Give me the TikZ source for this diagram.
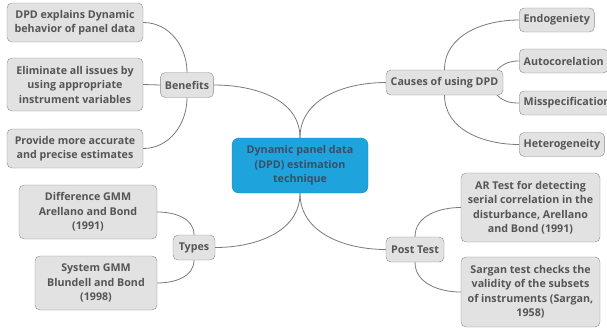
\documentclass[tikz,border=0pt]{standalone}
\usepackage{fontspec}
\setmainfont{Open Sans}
\usetikzlibrary{positioning}
\definecolor{boxfill}{HTML}{E2E2E2}
\definecolor{boxline}{HTML}{8A8A8A}
\definecolor{txtgray}{HTML}{555555}
\definecolor{linkgray}{HTML}{7A7A7A}
\definecolor{hubfill}{HTML}{1FA3DD}
\definecolor{hubline}{HTML}{1A86B8}
\definecolor{hubtxt}{HTML}{3A4E66}

\begin{document}
\begin{tikzpicture}[x=1pt,y=-1pt,
    link/.style={draw=linkgray,line width=0.8pt},
    topic/.style={draw=boxline,fill=boxfill,rounded corners=5pt,align=center,text=txtgray,
      font=\fontsize{10.7}{14.5}\selectfont\bfseries,inner xsep=4.5pt,inner ysep=3pt,minimum height=25pt},
    hub/.style={topic,draw=hubline,fill=hubfill,text=hubtxt,rounded corners=7pt,minimum width=136pt,minimum height=55pt}]

  \useasboundingbox (0,0) rectangle (607,327);

  \node[hub]                                    (dpd) at (300,165.5) {Dynamic panel data\\(DPD) estimation\\technique};

  \node[topic,minimum width=52pt]               (ben) at (187,85)    {Benefits};
  \node[topic,minimum width=42pt]               (typ) at (194,247.5) {Types};
  \node[topic,minimum width=117pt]              (cau) at (444.5,82.5) {Causes of using DPD};
  \node[topic,minimum width=58pt]               (pst) at (415,249.5) {Post Test};

  \node[topic,minimum width=136pt,minimum height=39pt] (b1) at (75,22.5)  {DPD explains Dynamic\\behavior of panel data};
  \node[topic,minimum width=136pt,minimum height=53pt] (b2) at (75,84.5)  {Eliminate all issues by\\using appropriate\\instrument variables};
  \node[topic,minimum width=136pt,minimum height=39pt] (b3) at (75,148.5) {Provide more accurate\\and precise estimates};

  \node[topic,minimum width=138pt,minimum height=54pt] (t1) at (88,212)   {Difference GMM\\Arellano and Bond\\(1991)};
  \node[topic,minimum width=122pt,minimum height=54pt] (t2) at (96,283)   {System GMM\\Blundell and Bond\\(1998)};

  \node[topic,anchor=west,minimum height=24pt]  (c1) at (519,20)    {Endogeniety};
  \node[topic,anchor=west,minimum height=24pt]  (c2) at (519,61)    {Autocorelation};
  \node[topic,anchor=west,minimum height=24pt]  (c3) at (519,103)   {Misspecification};
  \node[topic,anchor=west,minimum height=24pt]  (c4) at (519,144.5) {Heterogeneity};

  \node[topic,minimum width=139pt,minimum height=69pt] (p1) at (530.5,207.5) {AR Test for detecting\\serial correlation in the\\disturbance, Arellano\\and Bond (1991)};
  \node[topic,minimum width=139pt,minimum height=70pt] (p2) at (530.5,292)   {Sargan test checks the\\validity of the subsets\\of instruments (Sargan,\\1958)};

  % main branches
  \draw[link] (dpd.north) to[out=90,in=0]   (ben.east);
  \draw[link] (dpd.north) to[out=90,in=180] (cau.west);
  \draw[link] (dpd.south) to[out=-90,in=0]  (typ.east);
  \draw[link] (dpd.south) to[out=-90,in=180] (pst.west);

  % sub branches
  \draw[link] (ben.north) to[out=90,in=0]  (b1.east);
  \draw[link] (ben.west) -- (b2.east);
  \draw[link] (ben.south) to[out=-90,in=0] (b3.east);
  \draw[link] (typ.north) to[out=90,in=0]  (t1.east);
  \draw[link] (typ.south) to[out=-90,in=0] (t2.east);
  \draw[link] (cau.north) to[out=90,in=180]  (c1.west);
  \draw[link] ([xshift=-6pt]cau.north east) to[out=45,in=180]  (c2.west);
  \draw[link] ([xshift=-6pt]cau.south east) to[out=-45,in=180] (c3.west);
  \draw[link] (cau.south) to[out=-90,in=180] (c4.west);
  \draw[link] (pst.north) to[out=90,in=180]  (p1.west);
  \draw[link] (pst.south) to[out=-90,in=180] (p2.west);

\end{tikzpicture}
\end{document}
